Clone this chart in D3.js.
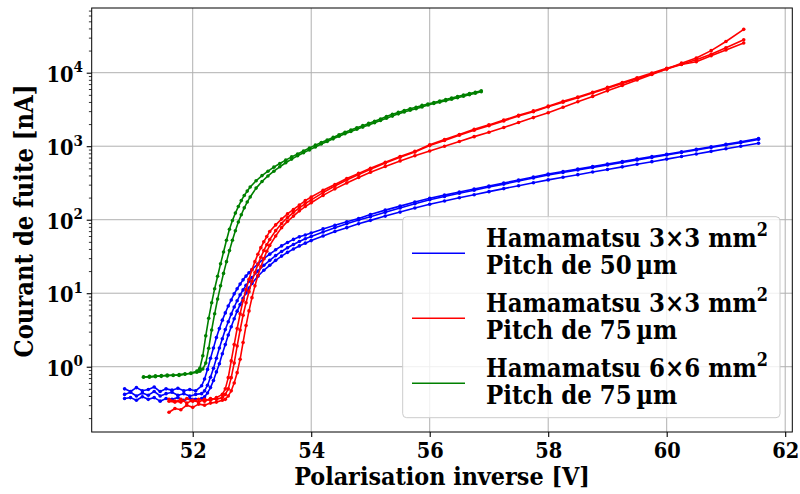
<!DOCTYPE html>
<html><head><meta charset="utf-8">
<script src="https://cdn.jsdelivr.net/npm/d3@7"></script>
<style>
body{margin:0;background:#fff}
svg{display:block}
text{font-family:"DejaVu Serif","DejaVu Serif Condensed",serif;font-stretch:semi-condensed;font-weight:bold;fill:#000}
</style>
</head><body><svg id="c" width="800" height="494"></svg>
<script>
// ---------- data ----------
const blueV = [50.85,50.95,51.05,51.15,51.25,51.35,51.45,51.55,51.65,51.75,51.85,51.95,52.05,
52.15,52.2,52.25,52.3,52.35,52.4,52.45,52.5,52.55,52.6,52.65,52.7,52.75,52.8,52.85,52.9,52.95,53.0,
53.1,53.2,53.3,53.4,53.5,53.6,53.7,53.8,53.9,54.0,54.2,54.4,54.6,54.8,55.0,55.25,55.5,
55.75,56.0,56.25,56.5,56.75,57.0,57.25,57.5,57.75,58.0,58.25,58.5,58.75,59.0,59.25,59.5,59.75,60.0,60.25,60.5,60.75,61.0,61.25,61.55];
const blue1 = [0.50,0.46,0.52,0.47,0.49,0.53,0.46,0.50,0.48,0.51,0.47,0.49,0.47,
0.55,0.68,0.92,1.3,1.8,2.5,3.3,4.3,5.4,6.7,8.1,9.8,11.5,13.3,15.2,17.1,19.0,21.0,
25,29.5,34,39,44,49,54,58.5,62,66,75,84,94,104,118,135,153,
174,196,216,238,262,288,316,347,381,418,452,489,528,571,617,667,721,779,842,910,983,1062,1148,1270];
const blue2 = [0.42,0.45,0.40,0.44,0.41,0.46,0.40,0.43,0.45,0.41,0.43,0.40,0.42,
0.43,0.47,0.56,0.72,0.95,1.3,1.8,2.4,3.2,4.1,5.2,6.5,7.9,9.5,11.1,12.8,14.6,16.4,
20,24,28,32.5,37,41.5,46,50.5,55,59,68,78,88,99,110,126,144,
165,187,207,229,252,278,305,336,369,405,440,476,515,557,602,651,703,760,822,888,960,1037,1120,1240];
const blue3 = [0.37,0.38,0.35,0.39,0.36,0.38,0.34,0.37,0.36,0.38,0.35,0.37,0.36,
0.37,0.39,0.44,0.52,0.65,0.85,1.1,1.5,2.0,2.7,3.5,4.5,5.7,7.0,8.5,10.1,11.8,13.6,
17,20.5,24,28,32,36,40,44,48,52,60,69,78,88,98,112,127,
144,162,180,199,219,241,265,290,318,348,378,410,445,483,524,568,616,668,724,785,851,922,1000,1095];

const redV = [51.6,51.7,51.8,51.9,52.0,52.1,52.2,52.3,52.4,52.5,
52.55,52.6,52.65,52.7,52.75,52.8,52.85,52.9,52.95,53.0,53.05,53.1,53.15,53.2,53.25,53.3,
53.4,53.5,53.6,53.7,53.8,53.9,54.0,54.2,54.4,54.6,54.8,55.0,55.25,55.5,
55.75,56.0,56.25,56.5,56.75,57.0,57.25,57.5,57.75,58.0,58.25,58.5,58.75,59.0,59.25,59.5,59.75,60.0,60.25,60.5,60.75,61.0,61.3];
const red1 = [0.34,0.33,0.36,0.32,0.35,0.33,0.36,0.35,0.38,0.42,
0.50,0.71,1.20,2.0,3.31,5.25,7.94,11.2,15.5,20.9,26.9,33.9,41.7,50.1,58.9,69.2,
85,102,120,138,158,182,204,251,302,363,427,501,603,724,
851,1047,1230,1445,1698,1950,2265,2630,3020,3508,4074,4677,5433,6310,7328,8511,9886,11482,13030,14960,17780,21878,27990];
const red2 = [0.36,0.34,0.33,0.37,0.34,0.36,0.34,0.37,0.36,0.38,
0.42,0.50,0.71,1.12,1.91,3.16,5.01,7.41,10.5,14.5,19.1,24.5,30.9,38.0,45.7,53.7,
71,89,107,126,145,166,186,234,288,347,412,484,589,708,
832,1020,1200,1410,1650,1900,2210,2570,2950,3430,3970,4570,5300,6160,7150,8300,9650,11200,12900,14130,16980,20420,25400];
const red3 = [0.24,0.27,0.26,0.30,0.28,0.31,0.30,0.32,0.33,0.35,
0.36,0.40,0.47,0.60,0.83,1.26,2.14,3.63,5.75,8.71,12.6,17.4,22.9,29.5,37.2,44.7,
60,78,95,112,132,151,170,214,263,316,376,442,531,631,
741,861,1000,1160,1350,1550,1800,2100,2450,2850,3390,4020,4760,5660,6710,7960,9460,11220,13490,15850,19950,26600,38900];

const greenV = [51.17,51.27,51.37,51.47,51.57,51.67,51.77,51.87,51.97,52.07,
52.12,52.17,52.22,52.27,52.32,52.37,52.42,52.47,52.52,52.57,52.62,52.67,52.72,52.77,52.82,52.87,52.92,52.97,
53.07,53.17,53.27,53.37,53.47,53.57,53.67,53.77,53.87,53.97,54.07,54.17,54.27,54.37,54.47,54.57,54.67,54.77,54.87,54.97,
55.07,55.17,55.27,55.37,55.47,55.57,55.67,55.77,55.87,55.97,56.07,56.17,56.27,56.37,56.47,56.57,56.67,56.77,56.87];
const green1 = [0.72,0.74,0.73,0.76,0.75,0.77,0.76,0.79,0.82,0.87,
0.95,1.41,2.63,4.57,7.41,11.5,17.0,25.1,36.3,52.5,74.1,97.7,123,151,182,214,245,279,
339,398,457,519,582,646,716,785,861,944,1035,1122,1216,1318,1429,1549,1660,1778,1905,2042,
2188,2344,2541,2723,2884,3055,3236,3388,3589,3758,3936,4121,4315,4519,4732,4955,5188,5433,5689];
const green2 = [0.73,0.72,0.75,0.74,0.77,0.76,0.78,0.80,0.81,0.84,
0.87,0.93,1.12,1.78,3.16,5.25,8.32,12.6,18.6,26.9,38.0,52.5,70.8,93.3,117,145,174,204,
269,331,394,457,525,596,668,741,813,891,977,1072,1161,1259,1365,1479,1585,1698,1820,1950,
2089,2239,2399,2570,2754,2917,3090,3236,3428,3631,3802,3981,4169,4365,4571,4786,5012,5248,5495];

const seriesColors = ["#0000ff","#ff0000","#008000"];
const legendLine1 = ["Hamamatsu 3×3 mm","Hamamatsu 3×3 mm","Hamamatsu 6×6 mm"];
const legendSup = ["2","2","2"];
const legendLine2 = ["Pitch de 50\u2009µm","Pitch de 75\u2009µm","Pitch de 75\u2009µm"];
const xTicks = [52,54,56,58,60,62];
const yTicks = [1,10,100,1000,10000];
const yExp = ["0","1","2","3","4"];
const xLabel = "Polarisation inverse [V]";
const yLabel = "Courant de fuite [nA]";

// ---------- chart ----------
const W=800,H=494;
const L=91.7,R=792.3,T=8,B=432;
const svg=d3.select("#c");
svg.append("rect").attr("width",W).attr("height",H).attr("fill","#fff");
const x=d3.scaleLinear().domain([50.295,62.12]).range([L,R]);
const y=d3.scaleLog().domain([0.1294,75900]).range([B,T]);

svg.append("defs").append("clipPath").attr("id","pc").append("rect")
  .attr("x",L).attr("y",T).attr("width",R-L).attr("height",B-T);

// grid
const grid=svg.append("g").attr("stroke","#b0b0b0").attr("stroke-width",1);
grid.selectAll(".gx").data(xTicks).join("line").attr("x1",d=>x(d)).attr("x2",d=>x(d)).attr("y1",T).attr("y2",B);
grid.selectAll(".gy").data(yTicks).join("line").attr("y1",d=>y(d)).attr("y2",d=>y(d)).attr("x1",L).attr("x2",R);

// data
const families=[[blueV,[blue1,blue2,blue3]],[redV,[red1,red2,red3]],[greenV,[green1,green2]]];
const line=d3.line().x(d=>x(d[0])).y(d=>y(d[1]));
const plot=svg.append("g").attr("clip-path","url(#pc)");
families.forEach(([V,curves],fi)=>{
  curves.forEach(c=>{
    const pts=V.map((v,i)=>[v,c[i]]);
    const g=plot.append("g");
    g.append("path").datum(pts).attr("d",line).attr("fill","none")
      .attr("stroke",seriesColors[fi]).attr("stroke-width",1.6).attr("stroke-linejoin","round");
    g.selectAll("circle").data(pts).join("circle").attr("cx",d=>x(d[0])).attr("cy",d=>y(d[1]))
      .attr("r",1.8).attr("fill",seriesColors[fi]);
  });
});

function fit(t,w){const l=t.node().getComputedTextLength();const fs=parseFloat(t.attr("font-size"));t.attr("font-size",fs*w/l);return fs*w/l;}

// axes
const xAx=svg.append("g").attr("transform",`translate(0,${B})`)
  .call(d3.axisBottom(x).tickValues(xTicks).tickSize(5).tickSizeOuter(0).tickFormat(d3.format("d")));
xAx.attr("font-family",null).attr("font-size",null);
xAx.select(".domain").remove();
xAx.selectAll(".tick line").attr("stroke","#000").attr("stroke-width",1.1);
xAx.selectAll(".tick text").attr("y",26).attr("dy",0).attr("font-size",22).attr("fill","#000");
xAx.selectAll(".tick text").each(function(){fit(d3.select(this),27);});

const minor=[];
for(let e=-1;e<=4;e++) for(let m=2;m<=9;m++){const v=m*Math.pow(10,e); if(v>=0.1294&&v<=75900) minor.push(v);}
const yMin=svg.append("g").attr("transform",`translate(${L},0)`)
  .call(d3.axisLeft(y).tickValues(minor).tickSize(2.8).tickFormat(""));
yMin.select(".domain").remove();
yMin.selectAll(".tick line").attr("stroke","#000").attr("stroke-width",0.8);
const yAx=svg.append("g").attr("transform",`translate(${L},0)`)
  .call(d3.axisLeft(y).tickValues(yTicks).tickSize(5).tickFormat(""));
yAx.attr("font-family",null).attr("font-size",null);
yAx.select(".domain").remove();
yAx.selectAll(".tick line").attr("stroke","#000").attr("stroke-width",1.1);
const tfs=parseFloat(xAx.select(".tick text").attr("font-size"));
yAx.selectAll(".tick").each(function(d,i){
  const t=d3.select(this).append("text").attr("x",-8.7).attr("y",8.5).attr("text-anchor","end")
    .attr("font-size",tfs).attr("fill","#000");
  t.append("tspan").text("10");
  t.append("tspan").attr("dy",-tfs*0.45).attr("font-size",tfs*0.7).text(yExp[i]);
});

// frame
svg.append("rect").attr("x",L).attr("y",T).attr("width",R-L).attr("height",B-T)
  .attr("fill","none").attr("stroke","#000").attr("stroke-width",1);

// axis labels
const xl=svg.append("text").attr("x",442).attr("y",485).attr("text-anchor","middle").attr("font-size",24).text(xLabel);
fit(xl,296);
const yl=svg.append("text").attr("transform","translate(33.3,221) rotate(-90)").attr("text-anchor","middle").attr("font-size",24).text(yLabel);
fit(yl,273);

// legend
const lg=svg.append("g");
lg.append("rect").attr("x",402.7).attr("y",216.7).attr("width",377.3).attr("height",201)
  .attr("rx",4).attr("fill","#fff").attr("fill-opacity",0.8).attr("stroke","#cccccc").attr("stroke-width",1);
let lfs=22;
legendLine1.forEach((s,i)=>{
  const y0=246.7+65*i;
  lg.append("line").attr("x1",412).attr("x2",465).attr("y1",253.3+65*i).attr("y2",253.3+65*i)
    .attr("stroke",seriesColors[i]).attr("stroke-width",1.6);
  const t1=lg.append("text").attr("x",486).attr("y",y0).attr("font-size",lfs);
  t1.append("tspan").text(s);
  t1.append("tspan").attr("class","sup").attr("dy",-9).attr("font-size",lfs*0.7).text(legendSup[i]);
  if(i===0){ lfs=fit(t1,282); }
  else { t1.attr("font-size",lfs); }
  t1.select(".sup").attr("font-size",lfs*0.7).attr("dy",-lfs*0.42);
  lg.append("text").attr("x",486).attr("y",y0+27.3).attr("font-size",lfs).text(legendLine2[i]);
});
</script>
</body></html>
